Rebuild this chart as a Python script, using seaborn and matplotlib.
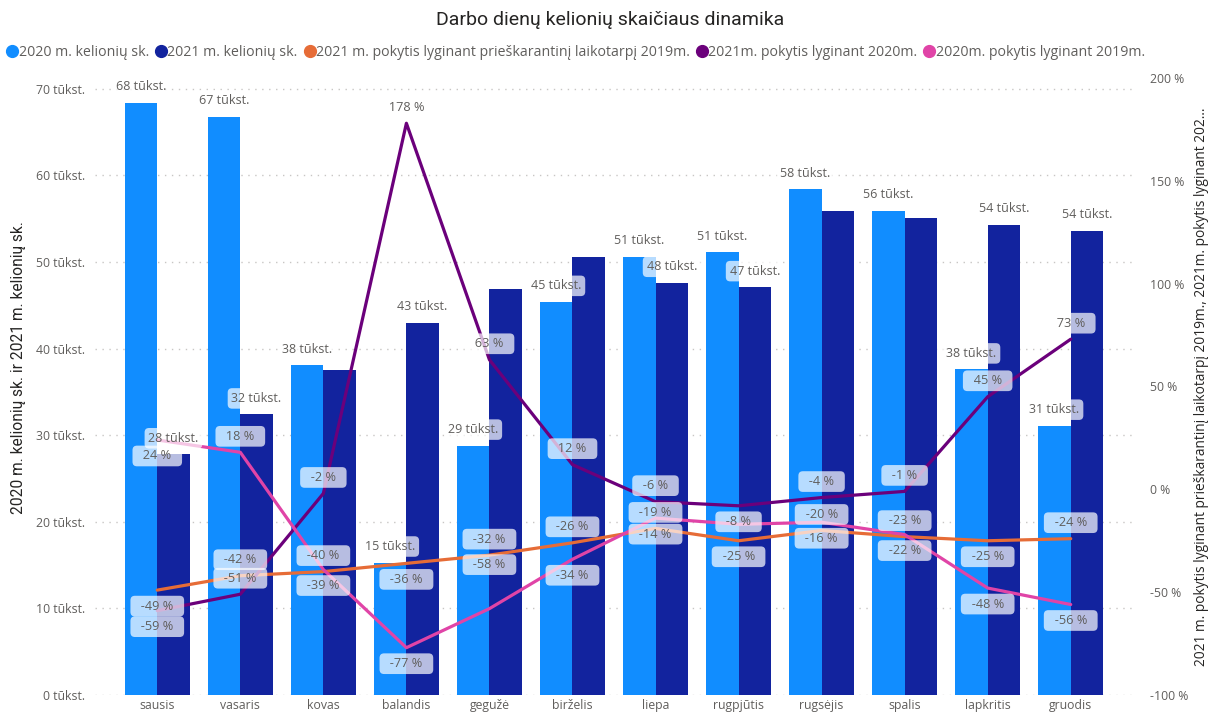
import numpy as np
import pandas as pd
import matplotlib
matplotlib.use('Agg')
import matplotlib.pyplot as plt
from matplotlib.lines import Line2D
from matplotlib.ticker import FixedLocator, FuncFormatter
import seaborn as sns

months = ['sausis', 'vasaris', 'kovas', 'balandis', 'gegužė', 'birželis',
          'liepa', 'rugpjūtis', 'rugsėjis', 'spalis', 'lapkritis', 'gruodis']

# trips, thousands
trips_2020 = [68.4, 66.8, 38.1, 15.3, 28.8, 45.4, 50.6, 51.1, 58.4, 55.9, 37.6, 31.1]
trips_2021 = [27.8, 32.4, 37.5, 43.0, 46.9, 50.6, 47.6, 47.1, 55.9, 55.1, 54.3, 53.6]
show_2021_label = [True, True, False, True, False, False, True, True, False, False, True, True]

# changes, %
chg_2021_vs_2019 = [-49, -42, -40, -36, -32, -26, -19, -25, -20, -23, -25, -24]
chg_2021_vs_2020 = [-59, -51, -2, 178, 63, 12, -6, -8, -4, -1, 45, 73]
chg_2020_vs_2019 = [24, 18, -39, -77, -58, -34, -14, -17, -16, -22, -48, -56]

# label offsets in pixels (positive = down), None = hidden label
off_orange = [16, -16, -16, 16, -16, -16, -16, 16, -16, -16, 16, -16]
off_purple = [16, -16, -16, -16, -16, -16, -16, 16, -16, -16, -16, -16]
off_pink = [16, -16, 16, 16, -44, 16, 16, None, 16, 16, 16, 16]

C2020 = '#118DFF'
C2021 = '#12239E'
CORANGE = '#E66C37'
CPURPLE = '#6B007B'
CPINK = '#E044A7'
GRAY = '#605E5C'
DARK = '#252423'

sns.set_theme(style='white')
plt.rcParams['font.family'] = ['Open Sans', 'DejaVu Sans']

bars = pd.DataFrame({
    'Mėnuo': months * 2,
    'Kelionės': trips_2020 + trips_2021,
    'Serija': ['2020 m. kelionių sk.'] * 12 + ['2021 m. kelionių sk.'] * 12,
})

fig = plt.figure(figsize=(12.12, 7.15), dpi=100)
ax1 = fig.add_axes([95 / 1212, 1 - 695 / 715, 1038 / 1212, 617 / 715])

sns.barplot(data=bars, x='Mėnuo', y='Kelionės', hue='Serija',
            palette=[C2020, C2021], saturation=1, width=0.78,
            linewidth=0, legend=False, ax=ax1)

ax1.set_xlim(-0.75, 11.75)
ax1.set_ylim(0, 71.25)
ax1.yaxis.set_major_locator(FixedLocator(np.arange(0, 71, 10)))
ax1.yaxis.set_major_formatter(FuncFormatter(lambda v, p: f'{int(v)} tūkst.'))
ax1.grid(axis='y', color='#C8C6C4', linestyle=(0, (1, 4)), linewidth=1)
ax1.set_axisbelow(True)
ax1.tick_params(axis='both', length=0, labelsize=8.8, colors=GRAY, pad=7)
ax1.tick_params(axis='x', pad=3)
ax1.set_xlabel('')
ax1.set_ylabel('2020 m. kelionių sk. ir 2021 m. kelionių sk.', fontsize=11.2,
               color=DARK, family=['Roboto', 'DejaVu Sans'])
ax1.yaxis.set_label_coords(-0.066, 0.53)
for s in ax1.spines.values():
    s.set_visible(False)

ax2 = ax1.twinx()
x = np.arange(len(months))
lines = pd.DataFrame({
    'x': np.concatenate([x, x, x]),
    'v': chg_2021_vs_2019 + chg_2021_vs_2020 + chg_2020_vs_2019,
    's': ['a'] * 12 + ['b'] * 12 + ['c'] * 12,
})
sns.lineplot(data=lines, x='x', y='v', hue='s', palette=[CORANGE, CPURPLE, CPINK],
             linewidth=2.3, legend=False, ax=ax2)
ax2.set_ylim(-100, 200)
ax2.yaxis.set_major_locator(FixedLocator(np.arange(-100, 201, 50)))
ax2.yaxis.set_major_formatter(FuncFormatter(lambda v, p: f'{int(v)} %'))
ax2.tick_params(axis='y', length=0, labelsize=8.8, colors=GRAY, pad=12)
ax2.set_ylabel('2021 m. pokytis lyginant prieškarantinį laikotarpį 2019m., '
               '2021m. pokytis lyginant 202…', fontsize=9.9, color=DARK)
ax2.yaxis.set_label_coords(1.0585, 0.5)
ax2.grid(False)
for s in ax2.spines.values():
    s.set_visible(False)

box = dict(boxstyle='round,pad=0.3,rounding_size=0.35', fc='white', ec='none', alpha=0.7)
PX = 0.72  # pixels -> points at dpi 100

# bar labels
for i in range(len(months)):
    ax2.annotate(f'{round(trips_2020[i])} tūkst.', xy=(i - 0.195, trips_2020[i]),
                 xycoords=ax1.transData, xytext=(0, 16 * PX), textcoords='offset points',
                 ha='center', va='center', fontsize=9, color=GRAY, bbox=box)
    if show_2021_label[i]:
        ax2.annotate(f'{round(trips_2021[i])} tūkst.', xy=(i + 0.195, trips_2021[i]),
                     xycoords=ax1.transData, xytext=(0, 16 * PX), textcoords='offset points',
                     ha='center', va='center', fontsize=9, color=GRAY, bbox=box)

# line labels
for vals, offs in [(chg_2021_vs_2019, off_orange), (chg_2021_vs_2020, off_purple),
                   (chg_2020_vs_2019, off_pink)]:
    for i, (v, o) in enumerate(zip(vals, offs)):
        if o is None:
            continue
        ax2.annotate(f'  {v} %  ', xy=(i, v), xytext=(0, -o * PX), textcoords='offset points',
                     ha='center', va='center', fontsize=9.2, color=GRAY, bbox=box)

fig.suptitle('Darbo dienų kelionių skaičiaus dinamika', x=0.503, y=1 - 20 / 715,
             va='center', fontsize=14, color=DARK, family=['Roboto', 'DejaVu Sans'])

legend_names = ['2020 m. kelionių sk.', '2021 m. kelionių sk.',
                '2021 m. pokytis lyginant prieškarantinį laikotarpį 2019m.',
                '2021m. pokytis lyginant 2020m.', '2020m. pokytis lyginant 2019m.']
legend_colors = [C2020, C2021, CORANGE, CPURPLE, CPINK]
handles = [Line2D([], [], linestyle='none', marker='o', markersize=8.5, color=c)
           for c in legend_colors]
fig.legend(handles, legend_names, loc='center left', bbox_to_anchor=(0.006, 1 - 52 / 715),
           ncol=5, frameon=False, fontsize=10.2, labelcolor=GRAY, handlelength=0.7,
           handletextpad=0.1, columnspacing=0.5, borderaxespad=0, borderpad=0)

fig.savefig('out.png', dpi=100)
